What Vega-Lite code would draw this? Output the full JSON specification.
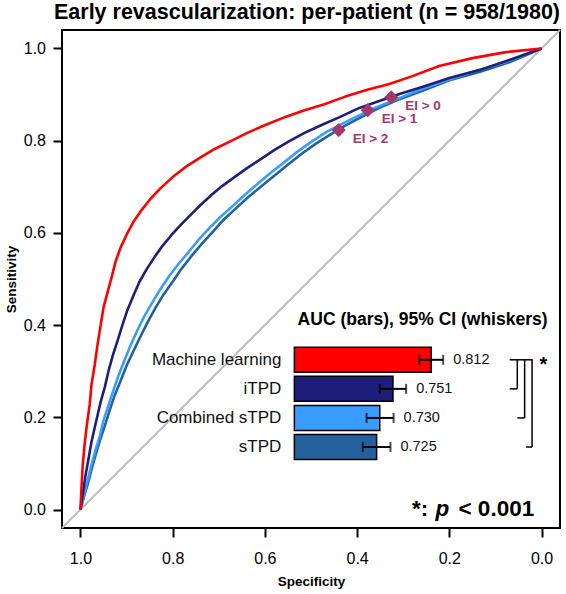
{
  "$schema": "https://vega.github.io/schema/vega-lite/v6.json",
  "width": 498,
  "height": 498,
  "autosize": {"type": "none"},
  "padding": {"left": 62, "top": 30, "right": 6, "bottom": 66},
  "background": "white",
  "title": {"text": "Early revascularization: per-patient (n = 958/1980)", "font": "Liberation Sans", "fontSize": 21.5, "fontWeight": "bold", "color": "black", "anchor": "middle", "offset": 6, "dx": -4},
  "config": {
    "view": {"stroke": "black", "strokeWidth": 2},
    "font": "Liberation Sans",
    "axis": {"domain": false, "grid": false, "ticks": true, "tickColor": "black", "tickWidth": 2, "tickSize": 9, "labelFont": "Liberation Sans", "labelFontSize": 16, "labelColor": "black", "titleFont": "Liberation Sans", "titleFontSize": 13.5, "titleFontWeight": "bold", "titleColor": "black"},
    "axisX": {"labelPadding": 13.5, "titlePadding": 8},
    "axisY": {"labelPadding": 7.5, "titlePadding": 5}
  },
  "datasets": {
    "roc": [
      {"model": "sTPD", "spec": 1.000, "sens": 0.000},
      {"model": "sTPD", "spec": 0.993, "sens": 0.026},
      {"model": "sTPD", "spec": 0.984, "sens": 0.056},
      {"model": "sTPD", "spec": 0.976, "sens": 0.087},
      {"model": "sTPD", "spec": 0.967, "sens": 0.119},
      {"model": "sTPD", "spec": 0.958, "sens": 0.149},
      {"model": "sTPD", "spec": 0.947, "sens": 0.182},
      {"model": "sTPD", "spec": 0.937, "sens": 0.214},
      {"model": "sTPD", "spec": 0.926, "sens": 0.247},
      {"model": "sTPD", "spec": 0.913, "sens": 0.279},
      {"model": "sTPD", "spec": 0.900, "sens": 0.312},
      {"model": "sTPD", "spec": 0.885, "sens": 0.344},
      {"model": "sTPD", "spec": 0.869, "sens": 0.377},
      {"model": "sTPD", "spec": 0.854, "sens": 0.407},
      {"model": "sTPD", "spec": 0.837, "sens": 0.438},
      {"model": "sTPD", "spec": 0.820, "sens": 0.466},
      {"model": "sTPD", "spec": 0.800, "sens": 0.494},
      {"model": "sTPD", "spec": 0.781, "sens": 0.522},
      {"model": "sTPD", "spec": 0.759, "sens": 0.550},
      {"model": "sTPD", "spec": 0.737, "sens": 0.576},
      {"model": "sTPD", "spec": 0.713, "sens": 0.602},
      {"model": "sTPD", "spec": 0.690, "sens": 0.628},
      {"model": "sTPD", "spec": 0.664, "sens": 0.652},
      {"model": "sTPD", "spec": 0.638, "sens": 0.676},
      {"model": "sTPD", "spec": 0.609, "sens": 0.700},
      {"model": "sTPD", "spec": 0.581, "sens": 0.723},
      {"model": "sTPD", "spec": 0.551, "sens": 0.747},
      {"model": "sTPD", "spec": 0.521, "sens": 0.771},
      {"model": "sTPD", "spec": 0.490, "sens": 0.793},
      {"model": "sTPD", "spec": 0.460, "sens": 0.812},
      {"model": "sTPD", "spec": 0.427, "sens": 0.832},
      {"model": "sTPD", "spec": 0.391, "sens": 0.851},
      {"model": "sTPD", "spec": 0.352, "sens": 0.871},
      {"model": "sTPD", "spec": 0.308, "sens": 0.890},
      {"model": "sTPD", "spec": 0.254, "sens": 0.910},
      {"model": "sTPD", "spec": 0.200, "sens": 0.931},
      {"model": "sTPD", "spec": 0.135, "sens": 0.949},
      {"model": "sTPD", "spec": 0.070, "sens": 0.970},
      {"model": "sTPD", "spec": 0.000, "sens": 1.000},
      {"model": "Combined sTPD", "spec": 1.000, "sens": 0.000},
      {"model": "Combined sTPD", "spec": 0.993, "sens": 0.030},
      {"model": "Combined sTPD", "spec": 0.984, "sens": 0.065},
      {"model": "Combined sTPD", "spec": 0.976, "sens": 0.097},
      {"model": "Combined sTPD", "spec": 0.967, "sens": 0.130},
      {"model": "Combined sTPD", "spec": 0.958, "sens": 0.160},
      {"model": "Combined sTPD", "spec": 0.950, "sens": 0.193},
      {"model": "Combined sTPD", "spec": 0.939, "sens": 0.227},
      {"model": "Combined sTPD", "spec": 0.928, "sens": 0.260},
      {"model": "Combined sTPD", "spec": 0.917, "sens": 0.292},
      {"model": "Combined sTPD", "spec": 0.904, "sens": 0.325},
      {"model": "Combined sTPD", "spec": 0.891, "sens": 0.357},
      {"model": "Combined sTPD", "spec": 0.876, "sens": 0.390},
      {"model": "Combined sTPD", "spec": 0.861, "sens": 0.420},
      {"model": "Combined sTPD", "spec": 0.843, "sens": 0.451},
      {"model": "Combined sTPD", "spec": 0.826, "sens": 0.479},
      {"model": "Combined sTPD", "spec": 0.807, "sens": 0.507},
      {"model": "Combined sTPD", "spec": 0.787, "sens": 0.533},
      {"model": "Combined sTPD", "spec": 0.765, "sens": 0.559},
      {"model": "Combined sTPD", "spec": 0.744, "sens": 0.585},
      {"model": "Combined sTPD", "spec": 0.720, "sens": 0.611},
      {"model": "Combined sTPD", "spec": 0.696, "sens": 0.635},
      {"model": "Combined sTPD", "spec": 0.670, "sens": 0.658},
      {"model": "Combined sTPD", "spec": 0.644, "sens": 0.682},
      {"model": "Combined sTPD", "spec": 0.616, "sens": 0.706},
      {"model": "Combined sTPD", "spec": 0.588, "sens": 0.730},
      {"model": "Combined sTPD", "spec": 0.557, "sens": 0.754},
      {"model": "Combined sTPD", "spec": 0.527, "sens": 0.778},
      {"model": "Combined sTPD", "spec": 0.497, "sens": 0.799},
      {"model": "Combined sTPD", "spec": 0.466, "sens": 0.819},
      {"model": "Combined sTPD", "spec": 0.434, "sens": 0.836},
      {"model": "Combined sTPD", "spec": 0.399, "sens": 0.853},
      {"model": "Combined sTPD", "spec": 0.362, "sens": 0.871},
      {"model": "Combined sTPD", "spec": 0.319, "sens": 0.888},
      {"model": "Combined sTPD", "spec": 0.265, "sens": 0.910},
      {"model": "Combined sTPD", "spec": 0.211, "sens": 0.929},
      {"model": "Combined sTPD", "spec": 0.150, "sens": 0.949},
      {"model": "Combined sTPD", "spec": 0.079, "sens": 0.970},
      {"model": "Combined sTPD", "spec": 0.000, "sens": 1.000},
      {"model": "iTPD", "spec": 1.000, "sens": 0.000},
      {"model": "iTPD", "spec": 0.995, "sens": 0.032},
      {"model": "iTPD", "spec": 0.989, "sens": 0.074},
      {"model": "iTPD", "spec": 0.982, "sens": 0.113},
      {"model": "iTPD", "spec": 0.976, "sens": 0.147},
      {"model": "iTPD", "spec": 0.969, "sens": 0.178},
      {"model": "iTPD", "spec": 0.963, "sens": 0.204},
      {"model": "iTPD", "spec": 0.956, "sens": 0.234},
      {"model": "iTPD", "spec": 0.947, "sens": 0.266},
      {"model": "iTPD", "spec": 0.939, "sens": 0.301},
      {"model": "iTPD", "spec": 0.930, "sens": 0.334},
      {"model": "iTPD", "spec": 0.919, "sens": 0.368},
      {"model": "iTPD", "spec": 0.908, "sens": 0.403},
      {"model": "iTPD", "spec": 0.898, "sens": 0.433},
      {"model": "iTPD", "spec": 0.885, "sens": 0.464},
      {"model": "iTPD", "spec": 0.872, "sens": 0.494},
      {"model": "iTPD", "spec": 0.856, "sens": 0.522},
      {"model": "iTPD", "spec": 0.839, "sens": 0.548},
      {"model": "iTPD", "spec": 0.822, "sens": 0.572},
      {"model": "iTPD", "spec": 0.802, "sens": 0.596},
      {"model": "iTPD", "spec": 0.783, "sens": 0.617},
      {"model": "iTPD", "spec": 0.761, "sens": 0.639},
      {"model": "iTPD", "spec": 0.739, "sens": 0.661},
      {"model": "iTPD", "spec": 0.716, "sens": 0.682},
      {"model": "iTPD", "spec": 0.692, "sens": 0.702},
      {"model": "iTPD", "spec": 0.666, "sens": 0.721},
      {"model": "iTPD", "spec": 0.638, "sens": 0.741},
      {"model": "iTPD", "spec": 0.609, "sens": 0.760},
      {"model": "iTPD", "spec": 0.579, "sens": 0.780},
      {"model": "iTPD", "spec": 0.547, "sens": 0.799},
      {"model": "iTPD", "spec": 0.514, "sens": 0.817},
      {"model": "iTPD", "spec": 0.477, "sens": 0.834},
      {"model": "iTPD", "spec": 0.438, "sens": 0.851},
      {"model": "iTPD", "spec": 0.395, "sens": 0.871},
      {"model": "iTPD", "spec": 0.352, "sens": 0.886},
      {"model": "iTPD", "spec": 0.308, "sens": 0.901},
      {"model": "iTPD", "spec": 0.254, "sens": 0.918},
      {"model": "iTPD", "spec": 0.200, "sens": 0.936},
      {"model": "iTPD", "spec": 0.135, "sens": 0.953},
      {"model": "iTPD", "spec": 0.070, "sens": 0.975},
      {"model": "iTPD", "spec": 0.027, "sens": 0.990},
      {"model": "iTPD", "spec": 0.000, "sens": 1.000},
      {"model": "Machine learning", "spec": 1.000, "sens": 0.000},
      {"model": "Machine learning", "spec": 0.998, "sens": 0.043},
      {"model": "Machine learning", "spec": 0.995, "sens": 0.097},
      {"model": "Machine learning", "spec": 0.991, "sens": 0.141},
      {"model": "Machine learning", "spec": 0.986, "sens": 0.184},
      {"model": "Machine learning", "spec": 0.980, "sens": 0.227},
      {"model": "Machine learning", "spec": 0.976, "sens": 0.271},
      {"model": "Machine learning", "spec": 0.969, "sens": 0.314},
      {"model": "Machine learning", "spec": 0.963, "sens": 0.357},
      {"model": "Machine learning", "spec": 0.956, "sens": 0.401},
      {"model": "Machine learning", "spec": 0.950, "sens": 0.438},
      {"model": "Machine learning", "spec": 0.941, "sens": 0.472},
      {"model": "Machine learning", "spec": 0.932, "sens": 0.505},
      {"model": "Machine learning", "spec": 0.924, "sens": 0.537},
      {"model": "Machine learning", "spec": 0.913, "sens": 0.568},
      {"model": "Machine learning", "spec": 0.900, "sens": 0.596},
      {"model": "Machine learning", "spec": 0.885, "sens": 0.624},
      {"model": "Machine learning", "spec": 0.867, "sens": 0.650},
      {"model": "Machine learning", "spec": 0.848, "sens": 0.674},
      {"model": "Machine learning", "spec": 0.826, "sens": 0.697},
      {"model": "Machine learning", "spec": 0.800, "sens": 0.721},
      {"model": "Machine learning", "spec": 0.772, "sens": 0.743},
      {"model": "Machine learning", "spec": 0.742, "sens": 0.762},
      {"model": "Machine learning", "spec": 0.709, "sens": 0.782},
      {"model": "Machine learning", "spec": 0.674, "sens": 0.799},
      {"model": "Machine learning", "spec": 0.638, "sens": 0.817},
      {"model": "Machine learning", "spec": 0.599, "sens": 0.834},
      {"model": "Machine learning", "spec": 0.557, "sens": 0.851},
      {"model": "Machine learning", "spec": 0.514, "sens": 0.866},
      {"model": "Machine learning", "spec": 0.471, "sens": 0.879},
      {"model": "Machine learning", "spec": 0.427, "sens": 0.895},
      {"model": "Machine learning", "spec": 0.380, "sens": 0.910},
      {"model": "Machine learning", "spec": 0.330, "sens": 0.923},
      {"model": "Machine learning", "spec": 0.280, "sens": 0.940},
      {"model": "Machine learning", "spec": 0.222, "sens": 0.962},
      {"model": "Machine learning", "spec": 0.150, "sens": 0.979},
      {"model": "Machine learning", "spec": 0.077, "sens": 0.992},
      {"model": "Machine learning", "spec": 0.000, "sens": 1.000}
    ],
    "ei": [
      {"label": "EI > 0", "spec": 0.326, "sens": 0.894},
      {"label": "EI > 1", "spec": 0.377, "sens": 0.866},
      {"label": "EI > 2", "spec": 0.440, "sens": 0.823}
    ],
    "auc": [
      {"model": "Machine learning", "auc": 0.812, "lo": 0.793, "hi": 0.831},
      {"model": "iTPD", "auc": 0.751, "lo": 0.730, "hi": 0.772},
      {"model": "Combined sTPD", "auc": 0.730, "lo": 0.709, "hi": 0.752},
      {"model": "sTPD", "auc": 0.725, "lo": 0.703, "hi": 0.747}
    ]
  },
  "layer": [
    {
      "layer": [
        {
          "data": {"values": [{}]},
          "mark": {"type": "rule", "color": "#bdbdbd", "strokeWidth": 2},
          "encoding": {
            "x": {"datum": 1.04, "type": "quantitative"},
            "y": {"datum": -0.04, "type": "quantitative"},
            "x2": {"datum": -0.04},
            "y2": {"datum": 1.04}
          }
        },
        {
          "data": {"name": "roc"},
          "mark": {"type": "line", "strokeWidth": 2.6, "strokeJoin": "round"},
          "encoding": {
            "x": {"field": "spec", "type": "quantitative", "title": "Specificity",
                  "scale": {"domain": [-0.04, 1.04], "reverse": true, "nice": false, "zero": false},
                  "axis": {"values": [0, 0.2, 0.4, 0.6, 0.8, 1], "format": ".1f"}},
            "y": {"field": "sens", "type": "quantitative", "title": "Sensitivity",
                  "scale": {"domain": [-0.04, 1.04], "nice": false, "zero": false},
                  "axis": {"values": [0, 0.2, 0.4, 0.6, 0.8, 1], "format": ".1f"}},
            "color": {"field": "model", "type": "nominal", "legend": null,
                      "scale": {"domain": ["Machine learning", "iTPD", "Combined sTPD", "sTPD"],
                                "range": ["#ff0000", "#1f1f7a", "#3b9cff", "#22609e"]}},
            "order": {"field": "sens", "type": "quantitative"}
          }
        },
        {
          "data": {"name": "ei"},
          "mark": {"type": "point", "shape": "diamond", "filled": true, "size": 200, "color": "#a3386a", "opacity": 1},
          "encoding": {
            "x": {"field": "spec", "type": "quantitative"},
            "y": {"field": "sens", "type": "quantitative"}
          }
        },
        {
          "data": {"name": "ei"},
          "mark": {"type": "text", "align": "left", "baseline": "middle", "dx": 14, "dy": 9, "fontSize": 13.5, "fontWeight": "bold", "color": "#a3386a"},
          "encoding": {
            "x": {"field": "spec", "type": "quantitative"},
            "y": {"field": "sens", "type": "quantitative"},
            "text": {"field": "label"}
          }
        },
        {
          "data": {"values": [{}]},
          "mark": {"type": "text", "align": "center", "baseline": "middle", "fontSize": 17.5, "fontWeight": "bold", "color": "black"},
          "encoding": {
            "x": {"datum": 0.258, "type": "quantitative"},
            "y": {"datum": 0.411, "type": "quantitative"},
            "text": {"value": "AUC (bars), 95% CI (whiskers)"}
          }
        },
        {
          "data": {"values": [{}]},
          "mark": {"type": "text", "align": "right", "baseline": "alphabetic", "fontSize": 22.5, "fontWeight": "bold", "color": "black"},
          "encoding": {
            "x": {"datum": 0.016, "type": "quantitative"},
            "y": {"datum": -0.013, "type": "quantitative"},
            "text": {"value": "< 0.001"}
          }
        },
        {
          "data": {"values": [{}]},
          "mark": {"type": "text", "align": "right", "baseline": "alphabetic", "fontSize": 22.5, "fontWeight": "bold", "fontStyle": "italic", "color": "black", "dx": -85},
          "encoding": {
            "x": {"datum": 0.016, "type": "quantitative"},
            "y": {"datum": -0.013, "type": "quantitative"},
            "text": {"value": "p"}
          }
        },
        {
          "data": {"values": [{}]},
          "mark": {"type": "text", "align": "right", "baseline": "alphabetic", "fontSize": 22.5, "fontWeight": "bold", "color": "black", "dx": -106},
          "encoding": {
            "x": {"datum": 0.016, "type": "quantitative"},
            "y": {"datum": -0.013, "type": "quantitative"},
            "text": {"value": "*:"}
          }
        }
      ]
    },
    {
      "data": {"name": "auc"},
      "layer": [
        {
          "mark": {"type": "bar", "stroke": "black", "strokeWidth": 1.5},
          "encoding": {
            "x": {"field": "auc", "type": "quantitative", "axis": null,
                  "scale": {"domain": [0.224, 1.017], "nice": false, "zero": false}},
            "x2": {"datum": 0.594},
            "y": {"field": "model", "type": "nominal", "axis": null,
                  "scale": {"domain": ["Machine learning", "iTPD", "Combined sTPD", "sTPD"], "range": [317.3, 429.5], "paddingInner": 0.14, "paddingOuter": 0}},
            "color": {"field": "model", "type": "nominal", "legend": null,
                      "scale": {"domain": ["Machine learning", "iTPD", "Combined sTPD", "sTPD"],
                                "range": ["#ff0000", "#1f1f7a", "#3b9cff", "#22609e"]}}
          }
        },
        {
          "mark": {"type": "rule", "color": "black", "strokeWidth": 2},
          "encoding": {
            "x": {"field": "lo", "type": "quantitative"},
            "x2": {"field": "hi"},
            "y": {"field": "model", "type": "nominal"}
          }
        },
        {
          "mark": {"type": "tick", "color": "black", "orient": "vertical", "size": 10, "thickness": 2},
          "encoding": {
            "x": {"field": "lo", "type": "quantitative"},
            "y": {"field": "model", "type": "nominal"}
          }
        },
        {
          "mark": {"type": "tick", "color": "black", "orient": "vertical", "size": 10, "thickness": 2},
          "encoding": {
            "x": {"field": "hi", "type": "quantitative"},
            "y": {"field": "model", "type": "nominal"}
          }
        },
        {
          "mark": {"type": "text", "align": "left", "baseline": "middle", "dx": 10, "fontSize": 14.5, "color": "#111111"},
          "encoding": {
            "x": {"field": "hi", "type": "quantitative"},
            "y": {"field": "model", "type": "nominal"},
            "text": {"field": "auc", "type": "quantitative", "format": ".3f"}
          }
        },
        {
          "mark": {"type": "text", "align": "right", "baseline": "middle", "dx": -13, "fontSize": 17, "color": "#111111"},
          "encoding": {
            "x": {"datum": 0.594, "type": "quantitative"},
            "y": {"field": "model", "type": "nominal"},
            "text": {"field": "model"}
          }
        },
        {
          "data": {"values": [{}]},
          "mark": {"type": "rule", "color": "black", "strokeWidth": 1.5},
          "encoding": {"x": {"datum": 0.937, "type": "quantitative"}, "x2": {"datum": 0.9735}, "y": {"datum": "Machine learning", "type": "nominal"}}
        },
        {
          "data": {"values": [{}]},
          "mark": {"type": "rule", "color": "black", "strokeWidth": 1.5},
          "encoding": {"x": {"datum": 0.949, "type": "quantitative"}, "y": {"datum": "Machine learning", "type": "nominal"}, "y2": {"datum": "iTPD"}}
        },
        {
          "data": {"values": [{}]},
          "mark": {"type": "rule", "color": "black", "strokeWidth": 1.5},
          "encoding": {"x": {"datum": 0.9607, "type": "quantitative"}, "y": {"datum": "Machine learning", "type": "nominal"}, "y2": {"datum": "Combined sTPD"}}
        },
        {
          "data": {"values": [{}]},
          "mark": {"type": "rule", "color": "black", "strokeWidth": 1.5},
          "encoding": {"x": {"datum": 0.9725, "type": "quantitative"}, "y": {"datum": "Machine learning", "type": "nominal"}, "y2": {"datum": "sTPD"}}
        },
        {
          "data": {"values": [{}]},
          "mark": {"type": "rule", "color": "black", "strokeWidth": 1.5},
          "encoding": {"x": {"datum": 0.937, "type": "quantitative"}, "x2": {"datum": 0.949}, "y": {"datum": "iTPD", "type": "nominal"}}
        },
        {
          "data": {"values": [{}]},
          "mark": {"type": "rule", "color": "black", "strokeWidth": 1.5},
          "encoding": {"x": {"datum": 0.949, "type": "quantitative"}, "x2": {"datum": 0.9607}, "y": {"datum": "Combined sTPD", "type": "nominal"}}
        },
        {
          "data": {"values": [{}]},
          "mark": {"type": "rule", "color": "black", "strokeWidth": 1.5},
          "encoding": {"x": {"datum": 0.963, "type": "quantitative"}, "x2": {"datum": 0.9725}, "y": {"datum": "sTPD", "type": "nominal"}}
        },
        {
          "data": {"values": [{}]},
          "mark": {"type": "text", "align": "center", "baseline": "middle", "dy": 5, "fontSize": 20, "fontWeight": "bold", "color": "black"},
          "encoding": {"x": {"datum": 0.9905, "type": "quantitative"}, "y": {"datum": "Machine learning", "type": "nominal"}, "text": {"value": "*"}}
        }
      ]
    }
  ],
  "resolve": {"scale": {"x": "independent", "y": "independent", "color": "shared"}}
}
